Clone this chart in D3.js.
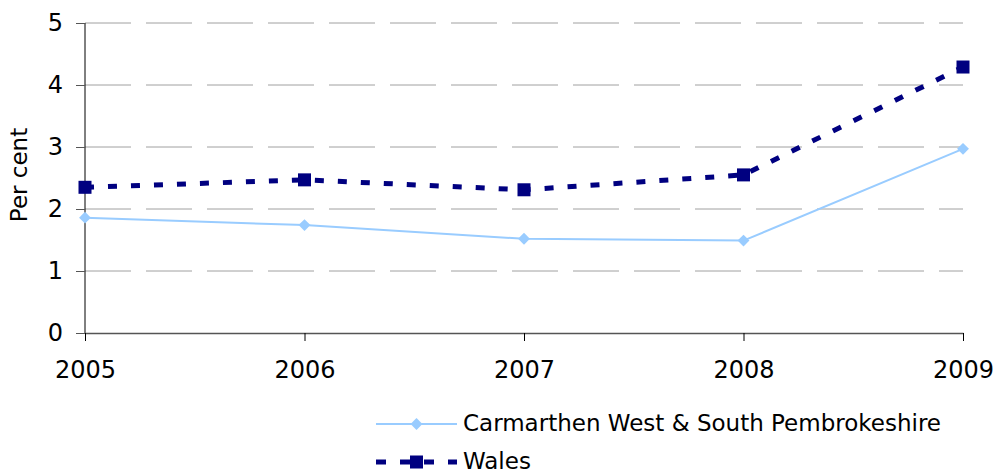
<!DOCTYPE html>
<html>
<head>
<meta charset="utf-8">
<script src="https://cdn.jsdelivr.net/npm/d3@7"></script>
<style>
  body { margin: 0; background: #fff; }
  svg text { font-family: "DejaVu Sans", sans-serif; fill: #000; }
</style>
</head>
<body>
<svg id="chart" width="996" height="476"></svg>
<script>
const years = ["2005", "2006", "2007", "2008", "2009"];
const carmarthen = [1.86, 1.74, 1.52, 1.49, 2.97];
const wales = [2.35, 2.47, 2.31, 2.55, 4.29];
const yTicks = [0, 1, 2, 3, 4, 5];
const seriesNames = ["Carmarthen West & South Pembrokeshire", "Wales"];

const margin = { top: 23, left: 85, right: 33, bottom: 143 };
const width = 996 - margin.left - margin.right;
const height = 476 - margin.top - margin.bottom;

const svg = d3.select("#chart");
const g = svg.append("g").attr("transform", `translate(${margin.left},${margin.top})`);

const x = d3.scalePoint().domain(years).range([0, width]);
const y = d3.scaleLinear().domain([0, 5]).range([height, 0]);

// gridlines
g.append("g")
  .selectAll("line")
  .data(yTicks.filter(d => d > 0))
  .join("line")
  .attr("x1", 0).attr("x2", width)
  .attr("y1", d => y(d)).attr("y2", d => y(d))
  .attr("stroke", "#a0a0a0")
  .attr("stroke-width", 1)
  .attr("stroke-dasharray", "46,15");

// y axis
const yAxis = g.append("g")
  .call(d3.axisLeft(y).tickValues(yTicks).tickSize(9).tickPadding(13).tickFormat(d3.format("d")));
yAxis.select(".domain").attr("stroke", "#000").attr("d", `M0,${height}V0`);
yAxis.selectAll(".tick line").attr("stroke", "#555");
yAxis.selectAll("text").attr("font-size", 24).attr("fill", "#000");

// x axis
const xAxis = g.append("g")
  .attr("transform", `translate(0,${height})`)
  .call(d3.axisBottom(x).tickSize(8).tickPadding(20).tickSizeOuter(0));
xAxis.select(".domain").attr("stroke", "#555").attr("stroke-width", 1.5);
xAxis.selectAll(".tick line").attr("stroke", "#000");
xAxis.selectAll("text").attr("font-size", 24).attr("fill", "#000");

svg.append("text")
  .attr("transform", `translate(27,${175}) rotate(-90)`)
  .attr("text-anchor", "middle")
  .attr("font-size", 23)
  .text("Per cent");

const line = d3.line().x((d, i) => x(years[i])).y(d => y(d));

// Carmarthen
g.append("path").datum(carmarthen)
  .attr("d", line).attr("fill", "none")
  .attr("stroke", "#99ccff").attr("stroke-width", 2);
g.selectAll(".diamond").data(carmarthen).join("path")
  .attr("class", "diamond")
  .attr("d", d3.symbol(d3.symbolDiamond2, 90))
  .attr("transform", (d, i) => `translate(${x(years[i])},${y(d)})`)
  .attr("fill", "#99ccff");

// Wales
g.append("path").datum(wales)
  .attr("d", line).attr("fill", "none")
  .attr("stroke", "#000080").attr("stroke-width", 5)
  .attr("stroke-dasharray", "9,14");
g.selectAll(".square").data(wales).join("rect")
  .attr("class", "square")
  .attr("x", (d, i) => x(years[i]) - 6.5)
  .attr("y", d => y(d) - 6.5)
  .attr("width", 13).attr("height", 13)
  .attr("fill", "#000080");

// legend
const legend = svg.append("g");
const lx0 = 376, lx1 = 457, tx = 463;
const row1 = legend.append("g").attr("transform", "translate(0,424)");
row1.append("line").attr("x1", lx0).attr("x2", lx1)
  .attr("stroke", "#99ccff").attr("stroke-width", 2);
row1.append("path")
  .attr("d", d3.symbol(d3.symbolDiamond2, 90))
  .attr("transform", `translate(${(lx0 + lx1) / 2},0)`)
  .attr("fill", "#99ccff");
row1.append("text").attr("x", tx).attr("y", 7).attr("font-size", 23).text(seriesNames[0]);

const row2 = legend.append("g").attr("transform", "translate(0,462)");
row2.append("line").attr("x1", lx0).attr("x2", lx1)
  .attr("stroke", "#000080").attr("stroke-width", 5)
  .attr("stroke-dasharray", "10,14");
row2.append("rect").attr("x", (lx0 + lx1) / 2 - 6.5).attr("y", -6.5)
  .attr("width", 13).attr("height", 13).attr("fill", "#000080");
row2.append("text").attr("x", tx).attr("y", 7).attr("font-size", 23).text(seriesNames[1]);
</script>
</body>
</html>
